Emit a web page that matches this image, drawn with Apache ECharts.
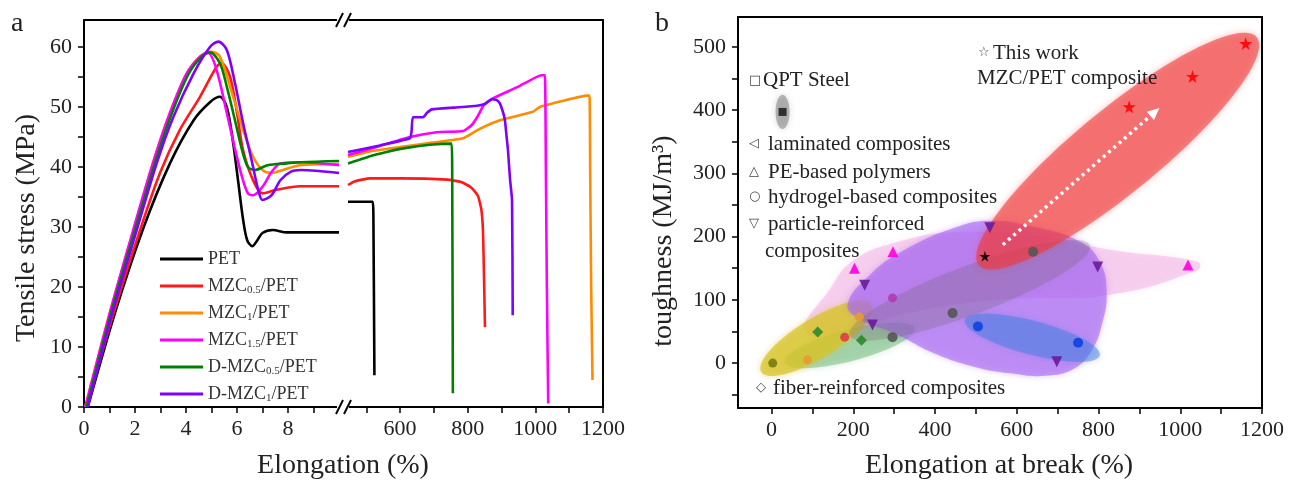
<!DOCTYPE html>
<html><head><meta charset="utf-8">
<script src="https://cdn.jsdelivr.net/npm/echarts@6/dist/echarts.min.js"></script>
<style>html,body{margin:0;padding:0;background:#fff}#c{width:1297px;height:487px}</style>
</head><body><div id="c"></div><script>
const FONT = '"Liberation Serif", "Times New Roman", serif';
const SYMFONT = '"DejaVu Sans", sans-serif';

// ---------- panel a : stress-strain ----------
const seriesNames = ['PET', 'MZC0.5/PET', 'MZC1/PET', 'MZC1.5/PET', 'D-MZC0.5/PET', 'D-MZC1/PET'];
const seriesColors = ['#000000', '#ff1a1a', '#ff8c00', '#ff00ff', '#008000', '#7f00ff'];

const petLeft = [[0.15,0],[1.2,15.5],[2.3,29.5],[3.37,40.6],[4.3,47.8],[4.94,50.8],[5.33,51.7],[5.6,50],[5.85,44],[6.04,37.8],[6.24,31.2],[6.4,27.8],[6.6,26.8],[6.8,27.8],[7.0,29],[7.4,29.5],[7.95,29.1],[9,29.1],[10,29.1]];
const mzc05Left = [[0.1,0],[1.15,15.5],[2.2,29.5],[2.98,39],[3.76,46.2],[4.55,51.7],[5.2,56.7],[5.4,57.3],[5.73,55],[6.0,49],[6.24,42.8],[6.63,37.8],[7.0,35.6],[7.55,36.2],[8.47,36.8],[10,36.8]];
const mzc1Left = [[0.05,0],[1.0,15.5],[1.95,29.5],[2.7,40.6],[3.37,49],[4.03,55.6],[4.6,58.6],[5.0,59.2],[5.33,58.4],[5.85,51.7],[6.24,46.2],[6.63,41.7],[7.0,39.5],[7.36,39],[7.8,39.5],[8.47,40.3],[10,40.5]];
const mzc15Left = [[0.05,0],[1.0,15.5],[1.93,29.5],[2.7,40.6],[3.37,49],[4.03,55.6],[4.55,58.4],[4.87,59],[5.2,56.2],[5.6,49],[5.9,43.4],[6.2,38.3],[6.43,35.6],[6.63,35.3],[7.0,36.7],[7.36,39.2],[7.7,40.6],[8.5,40.8],[10,40.3]];
const dmzc05Left = [[0.1,0],[1.05,15.5],[2.0,29.5],[2.78,40.6],[3.45,49],[4.1,55.5],[4.6,58.3],[4.94,59.1],[5.33,57.3],[5.6,53.4],[5.92,47.8],[6.2,42.8],[6.43,40],[6.7,39.5],[7.2,40.3],[7.95,40.6],[8.5,40.8],[10,41]];
const dmzc1Left = [[0.15,0],[1.1,15.5],[2.07,29.5],[2.85,40.6],[3.5,48.3],[4.3,55.6],[4.94,60],[5.27,60.9],[5.6,59.5],[5.92,54],[6.24,47.3],[6.6,40.6],[6.83,36.2],[7.0,34.5],[7.36,35.3],[7.7,37.8],[8.1,39.2],[8.5,39.5],[10,39]];

const petRight = [[446,34.2],[519,34.2],[521,32],[524,5.3]];
const mzc05Right = [[446,37],[465,37.6],[511,38.1],[600,38.1],[739,37.9],[780,37.5],[810,36.6],[830,35.2],[840,33],[845,29.5],[848,22],[851,13.3]];
const mzc1Right = [[446,41.7],[511,42.6],[610,43.4],[700,44.1],[787,44.8],[837,46.4],[895,47.8],[993,49.2],[1013,50],[1080,51],[1152,51.9],[1160,51.9],[1162,40],[1165,20],[1169,4.5]];
const mzc15Right = [[446,42],[540,43.5],[629,45],[708,45.8],[787,46],[812,47],[830,48.5],[846,50.2],[862,51],[880,51.6],[950,53.4],[1018,55.3],[1028,55.3],[1031,40],[1034,20],[1038,0.6]];
const dmzc05Right = [[446,40.6],[480,41.2],[511,41.8],[560,42.5],[610,43.1],[688,43.7],[752,43.9],[754,40],[756,2.3]];
const dmzc1Right = [[446,42.5],[540,43.6],[629,44.8],[634,46],[638,48.3],[668,48.3],[679,49],[694,49.6],[760,49.9],[827,50.2],[850,50.5],[872,51.3],[885,51.2],[895,50.6],[905,49],[910,47.8],[915,45],[919,42.8],[925,38],[931,34.5],[933,15.3]];

const leftXLabels = [0,2,4,6,8];
const leftXTicks = [0,1,2,3,4,5,6,7,8,9];
const rightXLabels = [600,800,1000,1200];
const rightXTicks = [500,600,700,800,900,1000,1100,1200];
const stressLabels = [0,10,20,30,40,50,60];
const stressTicks = [0,5,10,15,20,25,30,35,40,45,50,55,60];

// ---------- panel b : toughness vs elongation ----------
const breakLabels = [0,200,400,600,800,1000,1200];
const breakTicks = [0,100,200,300,400,500,600,700,800,900,1000,1100,1200];
const toughLabels = [0,100,200,300,400,500];
const toughTicks = [-50,0,50,100,150,200,250,300,350,400,450,500];

const thisWorkPts = [[875,405],[1030,453],[1160,505]];
const petPt = [[522,169]];
const steelPt = [[27,397]];
const pePts = [[203,150],[297,176],[1019,155]];
const particlePts = [[228,123],[534,214],[798,152],[698,2],[247,60]];
const hydrogelPts = [[505,58],[750,32]];
const laminatedPts = [[443,79],[296,41],[640,176]];
const fiberPts = [[113,49],[220,36]];
const olivePts = [[3,0]];
const orangePts = [[88,5],[215,73]];
const redPts = [[179,41]];
const mauvePts = [[296,103]];
const arrowFrom = [566,187];
const arrowTo = [938,397];

// regions: [center, major semi-axis vector, minor semi-axis vector] in data units
const zoneThisWork = [[847,335],[340,180],[65,-51]];
const zoneYellow = [[110,39],[135,53],[25,-27]];
const zoneGreen = [[191,28],[159,27],[10,-24]];
const zoneGray = [[485,115],[294,71],[21,-36]];
const zoneBlue = [[638,40],[165,-28],[-10,-26]];
const zoneSteel = [[27,397],[0,27],[17,0]];
const zonePurple = [[186,92],[240,139],[326,179],[448,214],[534,225],[644,215],[754,192],[803,160],[820,112],[808,60],[784,21],[742,-8],[669,-20],[583,-16],[497,-6],[399,15],[301,47],[220,68]];
const zonePink = [[81,52],[142,116],[196,160],[301,190],[460,207],[681,198],[828,179],[1043,160],[1043,147],[828,108],[558,100],[314,76],[167,44]];

function ellipseSeries(zone, color, z) {
  return {
    type: 'custom', xAxisIndex: 2, yAxisIndex: 2, silent: true, z: z, clip: true,
    data: [zone[0]],
    renderItem: function (params, api) {
      const c = zone[0], a = zone[1], b = zone[2];
      const pts = [];
      for (let k = 0; k < 90; k++) {
        const t = k / 90 * Math.PI * 2;
        pts.push(api.coord([c[0] + Math.cos(t) * a[0] + Math.sin(t) * b[0], c[1] + Math.cos(t) * a[1] + Math.sin(t) * b[1]]));
      }
      return { type: 'polygon', shape: { points: pts }, style: { fill: color, shadowBlur: 6, shadowColor: color } };
    }
  };
}
function polySeries(poly, color, z) {
  return {
    type: 'custom', xAxisIndex: 2, yAxisIndex: 2, silent: true, z: z, clip: true,
    data: [poly[0]],
    renderItem: function (params, api) {
      return { type: 'polygon', shape: { points: poly.map(p => api.coord(p)), smooth: 0.45 }, style: { fill: color, shadowBlur: 6, shadowColor: color } };
    }
  };
}
function scatter(pts, symbol, size, color, rotate) {
  return { type: 'scatter', xAxisIndex: 2, yAxisIndex: 2, data: pts, symbol: symbol, symbolSize: size, symbolRotate: rotate || 0, itemStyle: { color: color, opacity: 0.9 }, z: 5, silent: true };
}
const STAR = 'path://M50,0 L61,35 L98,35 L68,57 L79,91 L50,70 L21,91 L32,57 L2,35 L39,35 Z';

const chart = echarts.init(document.getElementById('c'), null, { renderer: 'canvas' });

const axisLineStyle = { show: true, onZero: false, lineStyle: { color: '#000', width: 2 } };
const labelStyle = { fontFamily: FONT, fontSize: 22, color: '#222', formatter: function (v) { return String(v); } };

function xAx(grid, min, max, labels, ticks) {
  return { type: 'value', gridIndex: grid, min: min, max: max, position: 'bottom',
    axisLine: axisLineStyle, splitLine: { show: false },
    axisTick: { show: true, length: 6, customValues: ticks, lineStyle: { width: 1.5, color: '#000' } },
    axisLabel: Object.assign({ customValues: labels, margin: 11 }, labelStyle) };
}
function yAx(grid, min, max, labels, ticks) {
  return { type: 'value', gridIndex: grid, min: min, max: max, position: 'left',
    axisLine: axisLineStyle, splitLine: { show: false },
    axisTick: { show: true, length: 6, customValues: ticks, lineStyle: { width: 1.5, color: '#000' } },
    axisLabel: Object.assign({ customValues: labels, margin: 12 }, labelStyle) };
}
function frameAx(grid, min, max, pos) {
  return { type: 'value', gridIndex: grid, min: min, max: max, position: pos,
    axisLine: axisLineStyle, axisTick: { show: false }, axisLabel: { show: false }, splitLine: { show: false } };
}

const series = [];
const lefts = [petLeft, mzc05Left, mzc1Left, mzc15Left, dmzc05Left, dmzc1Left];
const rights = [petRight, mzc05Right, mzc1Right, mzc15Right, dmzc05Right, dmzc1Right];
for (let i = 0; i < 6; i++) {
  series.push({ name: seriesNames[i], type: 'line', xAxisIndex: 0, yAxisIndex: 0, data: lefts[i], showSymbol: false,
    smooth: 0.3, lineStyle: { color: seriesColors[i], width: 2.6 }, itemStyle: { color: seriesColors[i] }, z: 3 + (i === 0 ? 0 : 1) });
  series.push({ name: seriesNames[i], type: 'line', xAxisIndex: 1, yAxisIndex: 1, data: rights[i], showSymbol: false,
    smooth: 0.15, lineStyle: { color: seriesColors[i], width: 2.6 }, itemStyle: { color: seriesColors[i] }, z: 3 });
}

// panel b regions
series.push(polySeries(zonePink, 'rgba(238,160,222,0.42)', 1));
series.push(ellipseSeries(zoneGreen, 'rgba(120,190,130,0.55)', 1));
series.push(ellipseSeries(zoneYellow, 'rgba(215,195,40,0.7)', 1));
series.push(polySeries(zonePurple, 'rgba(165,100,240,0.6)', 2));
series.push(ellipseSeries(zoneGray, 'rgba(110,100,110,0.25)', 2));
series.push(ellipseSeries(zoneBlue, 'rgba(70,125,225,0.5)', 2));
series.push(ellipseSeries(zoneThisWork, 'rgba(240,55,55,0.58)', 3));
series.push(ellipseSeries(zoneSteel, 'rgba(130,130,130,0.55)', 2));

// panel b markers
series.push(scatter(laminatedPts, 'circle', 10, '#555555'));
series.push(scatter(pePts, 'triangle', 11, '#ff00e0'));
series.push(scatter(particlePts, 'triangle', 11, '#6a1a9a', 180));
series.push(scatter(hydrogelPts, 'circle', 10, '#1040e0'));
series.push(scatter(fiberPts, 'diamond', 11, '#2a8a2a'));
series.push(scatter(olivePts, 'circle', 9, '#7a7a10'));
series.push(scatter(orangePts, 'circle', 9, '#e89a30'));
series.push(scatter(redPts, 'circle', 9, '#e03a48'));
series.push(scatter(mauvePts, 'circle', 9, '#b03cb0'));
series.push(scatter(steelPt, 'rect', 8, '#222222'));
series.push(scatter(petPt, STAR, 11, '#000000'));
const starSeries = scatter(thisWorkPts, STAR, 13, '#ff0000');
starSeries.markLine = { silent: true, symbol: ['none', 'triangle'], symbolSize: [11, 12], label: { show: false },
  lineStyle: { color: '#ffffff', width: 3.5, type: [3, 4], opacity: 1 }, data: [[{ coord: arrowFrom }, { coord: arrowTo }]] };
series.push(starSeries);

function txt(x, y, s, size, opts) {
  return Object.assign({ type: 'text', x: x, y: y, z: 100,
    style: { text: s, font: (size || 21) + 'px ' + FONT, fill: '#222', align: 'left', verticalAlign: 'middle' } }, opts || {});
}
function sym(x, y, s, size) {
  return { type: 'text', x: x, y: y, z: 100, style: { text: s, font: (size || 13) + 'px ' + SYMFONT, fill: '#444', align: 'left', verticalAlign: 'middle' } };
}
function slash(x, y) {
  return { type: 'line', z: 100, shape: { x1: x, y1: y + 7, x2: x + 7, y2: y - 7 }, style: { stroke: '#000', lineWidth: 2 } };
}

const graphic = [
  { type: 'rect', z: 99, shape: { x: 337, y: 403, width: 12, height: 8 }, style: { fill: '#fff' } },
  { type: 'rect', z: 99, shape: { x: 337, y: 16, width: 12, height: 8 }, style: { fill: '#fff' } },
  slash(336, 407), slash(344, 407), slash(336, 20), slash(344, 20),
  txt(11, 24, 'a', 28),
  txt(655, 24, 'b', 28),
  { type: 'text', x: 27, y: 228, rotation: Math.PI / 2, z: 100, style: { text: 'Tensile stress (MPa)', font: '28px ' + FONT, fill: '#222', align: 'center', verticalAlign: 'middle' } },
  { type: 'text', x: 343, y: 466, z: 100, style: { text: 'Elongation (%)', font: '28px ' + FONT, fill: '#222', align: 'center', verticalAlign: 'middle' } },
  { type: 'text', x: 664, y: 241, rotation: Math.PI / 2, z: 100, style: { text: 'toughness (MJ/m³)', font: '28px ' + FONT, fill: '#222', align: 'center', verticalAlign: 'middle' } },
  { type: 'text', x: 999, y: 466, z: 100, style: { text: 'Elongation at break (%)', font: '28px ' + FONT, fill: '#222', align: 'center', verticalAlign: 'middle' } },
  sym(749, 81, '□'), txt(763, 80, 'QPT Steel'),
  sym(749, 144, '◁'), txt(768, 144, 'laminated composites'),
  sym(749, 172, '△'), txt(768, 172, 'PE-based polymers'),
  sym(749, 197, '○'), txt(768, 197, 'hydrogel-based composites'),
  sym(749, 224, '▽'), txt(768, 224, 'particle-reinforced'), txt(765, 251, 'composites'),
  sym(756, 388, '◇'), txt(773, 388, 'fiber-reinforced composites'),
  sym(978, 53, '☆'), txt(993, 53, 'This work'), txt(977, 78, 'MZC/PET composite')
];

chart.setOption({
  animation: false,
  backgroundColor: '#ffffff',
  textStyle: { fontFamily: FONT },
  grid: [
    { left: 84, top: 20, width: 255, height: 387 },
    { left: 346, top: 20, width: 257, height: 387 },
    { left: 738, top: 17, width: 524, height: 391 }
  ],
  xAxis: [
    xAx(0, 0, 10, leftXLabels, leftXTicks),
    xAx(1, 440, 1200, rightXLabels, rightXTicks),
    xAx(2, -82, 1200, breakLabels, breakTicks),
    frameAx(0, 0, 10, 'top'),
    frameAx(1, 440, 1200, 'top'),
    frameAx(2, -82, 1200, 'top')
  ],
  yAxis: [
    yAx(0, 0, 64.5, stressLabels, stressTicks),
    { type: 'value', gridIndex: 1, min: 0, max: 64.5, show: false },
    yAx(2, -71, 547, toughLabels, toughTicks),
    frameAx(1, 0, 64.5, 'right'),
    frameAx(2, -71, 547, 'right')
  ],
  legend: {
    data: seriesNames, orient: 'vertical', left: 155, top: 244, itemWidth: 43, itemHeight: 3, itemGap: 7,
    icon: 'rect', selectedMode: false,
    formatter: function (n) { return n.replace(/MZC([\d.]+)/, 'MZC{sub|$1}'); },
    textStyle: { fontFamily: FONT, fontSize: 18, color: '#333', lineHeight: 20,
      rich: { sub: { fontFamily: FONT, fontSize: 11, color: '#333', verticalAlign: 'bottom', lineHeight: 20, padding: [7, 0, 0, 0] } } }
  },
  series: series,
  graphic: graphic
});
</script></body></html>
